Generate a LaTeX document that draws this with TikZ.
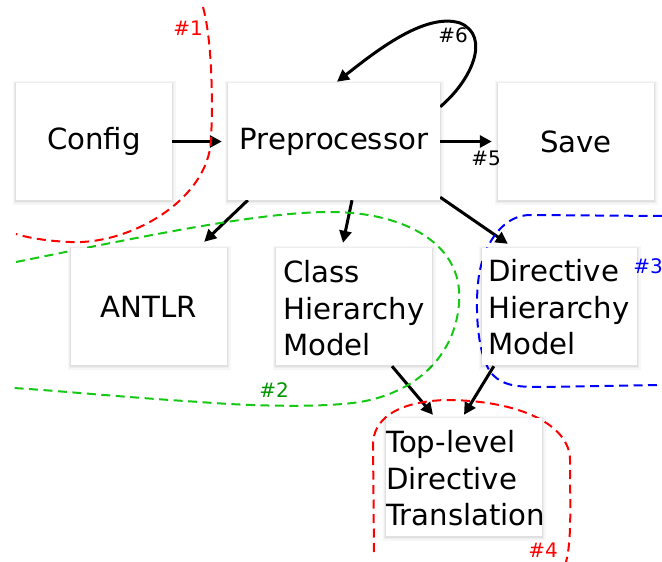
\documentclass[tikz,border=0pt]{standalone}
\usepackage{fontspec}
\setmainfont{DejaVu Sans}
\usetikzlibrary{arrows.meta,calc}
\pgfdeclarelayer{bglayer}
\pgfdeclarelayer{arrowlayer}
\pgfdeclarelayer{dashlayer}
\pgfsetlayers{bglayer,arrowlayer,dashlayer,main}
\newcommand\diagfont{\fontsize{29.2}{36.8}\selectfont}
\newcommand\tagfont{\fontsize{20}{24}\selectfont}
\definecolor{tagred}{RGB}{255,0,0}
\definecolor{linegreen}{RGB}{20,200,20}
\definecolor{taggreen}{RGB}{0,150,0}
\definecolor{tagblue}{RGB}{0,0,255}
\begin{document}
\begin{tikzpicture}[x=1pt,y=-1pt,
  box/.style={fill=white, inner sep=0pt, minimum width=156pt, minimum height=117pt,
    preaction={draw=black, draw opacity=0.03, line width=7pt, transform canvas={yshift=-1pt}},
    preaction={draw=black, draw opacity=0.04, line width=4pt, transform canvas={yshift=-1pt}},
    preaction={draw=black, draw opacity=0.05, line width=1.6pt, transform canvas={yshift=-1pt}},
    font=\diagfont},
  boxtext/.style={inner sep=0pt, anchor=north west, align=left, font=\diagfont},
  arr/.style={line width=3pt, -{Triangle[length=12pt,width=12pt]}},
  zone/.style={line width=2pt, dash pattern=on 9pt off 5.5pt},
  tag/.style={inner sep=0pt, font=\tagfont}]
\begin{pgfonlayer}{bglayer}
  \fill[white] (0,0) rectangle (662,562);
\end{pgfonlayer}
\useasboundingbox (0,0) rectangle (662,562);

% processing stages
\node[box] (config) at (94,141.5) {Config};
\node[box, minimum width=212pt] (pre) at (334,141.5) {Preprocessor};
\node[box] (save) at (576,141.5) {Save};
\node[box] (antlr) at (149,306.5) {ANTLR};
\node[box] (class) at (354,306.5) {};
\node[box, minimum width=155pt] (dir) at (559.5,306.5) {};
\node[box, minimum height=118pt] (top) at (464,477) {};
\node[boxtext] (classtxt) at (283,260) {Class\\Hierarchy\\Model};
\node[boxtext] (dirtxt) at (488,259) {Directive\\Hierarchy\\Model};
\node[boxtext] (toptxt) at (386,430) {Top-level\\Directive\\Translation};

% data flow
\begin{pgfonlayer}{arrowlayer}
  \draw[arr] (config.east) -- ($(pre.west)+(-6,0)$);
  \draw[arr] (pre.east) -- ($(save.west)+(-6,0)$);
  \draw[arr] ($(pre.north east)+(0,24)$) .. controls (472,80) and (491,36) .. (460,23)
    .. controls (425,12) and (375,52) .. ($(pre.north)+(3,-1)$);
  \draw[arr] ($(pre.south west)+(20,0)$) -- ($(antlr.north east)+(-23,-6)$);
  \draw[arr] ($(pre.south)+(18,0)$) -- ($(class.north)+(-11,-5)$);
  \draw[arr] ($(pre.south east)+(0,-3)$) -- ($(dir.north west)+(26,-4)$);
  \draw[arr] ($(class.south)+(38,1)$) -- ($(top.north)+(-31,-3)$);
  \draw[arr] ($(dir.south west)+(12,1)$) -- ($(top.north)+(0,-3)$);
\end{pgfonlayer}

% work-package boundaries
\begin{pgfonlayer}{dashlayer}
  \draw[zone, tagred] (203,7) .. controls (212,40) and (213,100) .. (211,140)
    .. controls (208,200) and (130,245) .. (70,242)
    .. controls (45,241) and (25,237) .. (16,234);
  \draw[zone, linegreen] (16,262) .. controls (150,235) and (260,212) .. (330,212)
    .. controls (400,212) and (455,240) .. (459,290)
    .. controls (462,340) and (430,390) .. (360,402)
    .. controls (320,408) and (250,406) .. (200,402)
    .. controls (120,397) and (50,390) .. (13,388);
  \draw[zone, tagblue] (662,216) -- (530,215)
    .. controls (505,215) and (485,240) .. (479,275)
    .. controls (474,310) and (478,360) .. (493,375)
    .. controls (503,385) and (515,387) .. (540,387) -- (662,385);
  \draw[zone, tagred] (374,552) -- (373,445)
    .. controls (373,420) and (395,402) .. (445,400)
    .. controls (520,400) and (570,425) .. (570,460)
    .. controls (570,500) and (572,540) .. (566,562);
\end{pgfonlayer}

% labels
\node[tag, tagred] (t1) at (188,28) {\#1};
\node[tag, taggreen] (t2) at (274,390) {\#2};
\node[tag, tagblue] (t3) at (648,266) {\#3};
\node[tag, tagred] (t4) at (543,550) {\#4};
\node[tag] (t5) at (486,158) {\#5};
\node[tag] (t6) at (453,35) {\#6};
\end{tikzpicture}
\end{document}
